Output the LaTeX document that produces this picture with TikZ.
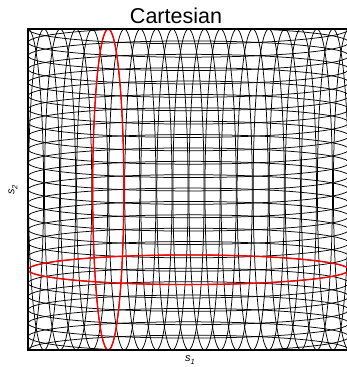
\documentclass[tikz,border=0pt]{standalone}
\usepackage{fontspec}
\setmainfont{Liberation Sans}
\begin{document}
\begin{tikzpicture}[x=1pt,y=-1pt,
  ell/.style={draw=black,line width=0.75pt},
  redell/.style={draw=red,line width=1.4pt},
  frame/.style={draw=black,line width=1.1pt},
  lbl/.style={inner sep=0pt,font=\fontsize{11}{13}\selectfont\itshape}]
\useasboundingbox (0,0) rectangle (347,367);
\begin{scope}
\clip (28,29) rectangle (349,350);
% vertical ellipses (s1 grid)
\foreach \k in {0,...,20} {
  \pgfmathsetmacro{\cx}{28+16.05*\k}
  \draw[ell] (\cx,189.5) ellipse [x radius=15.6pt, y radius=160.5pt];
}
% horizontal ellipses (s2 grid)
\foreach \k in {0,...,24} {
  \pgfmathsetmacro{\cy}{29+13.375*\k}
  \draw[ell] (188.5,\cy) ellipse [x radius=160.5pt, y radius=14.8pt];
}
\draw[redell] (108.25,189.5) ellipse [x radius=15.6pt, y radius=160.5pt];
\draw[redell] (188.5,269.75) ellipse [x radius=160.5pt, y radius=14.8pt];
\end{scope}
% frame
\draw[frame] (349,29) -- (28,29) -- (28,350) -- (349,350);
\node (title) at (176,16) {\fontsize{21.5}{24}\selectfont Cartesian};
\node[lbl] (xl) at (190,360) {s\raisebox{-0.5ex}{\fontsize{7.5}{8}\selectfont 1}};
\node[lbl,rotate=90] (yl) at (13,190) {s\raisebox{-0.5ex}{\fontsize{7.5}{8}\selectfont 2}};
\end{tikzpicture}
\end{document}
